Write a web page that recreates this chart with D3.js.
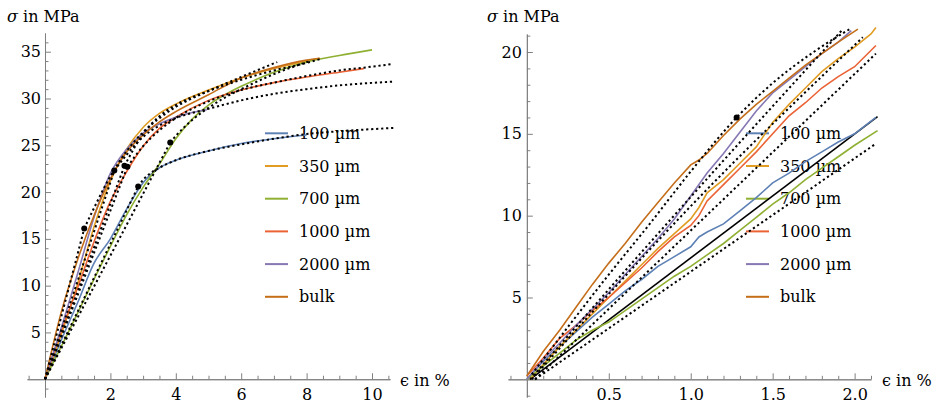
<!DOCTYPE html>
<html><head><meta charset="utf-8">
<script src="https://cdn.jsdelivr.net/npm/d3@7"></script>
<style>
body{margin:0;background:#fff}
</style>
</head><body>
<svg id="chart" width="936" height="405"></svg>
<script>
// ---------- DATA ----------
const seriesLabels = ["100 \u00b5m","350 \u00b5m","700 \u00b5m","1000 \u00b5m","2000 \u00b5m","bulk"];
const seriesColors = ["#5E81B5","#E19C24","#8FB032","#EB6235","#8778B3","#C56E1A"];

// left panel: full curves  [strain %, stress MPa]
const left100  = [[0,0],[0.5,4.2],[1,8.2],[1.5,12.4],[2,15.0],[2.5,18.2],[3,21.0],[3.5,22.6],[4,23.4],[5,24.4],[6,25.2],[7,25.7],[8,26.1]];
const left350  = [[0,0],[0.5,4.8],[1,10.2],[1.5,16.3],[2,21.2],[2.5,24.6],[3,26.9],[3.5,28.4],[4,29.4],[5,30.9],[6,32.2],[7,33.2],[8,34.0],[8.4,34.3]];
const left700  = [[0,0],[0.5,3.5],[1,7.1],[1.5,10.7],[2,14.2],[2.5,17.6],[3,20.5],[3.5,23.0],[4,25.7],[4.5,27.8],[5,29.3],[5.5,30.4],[6,31.3],[7,32.8],[8,33.9],[9,34.6],[10,35.2]];
const left1000 = [[0,0],[0.5,5.2],[1,9.8],[1.5,14.7],[2,19.0],[2.5,22.2],[3,24.9],[3.5,26.8],[4,28.0],[5,29.8],[6,30.9],[7,31.7],[8,32.3],[9,32.8],[9.75,33.2]];
const left2000 = [[0,0],[0.5,5.5],[1,11.3],[1.5,17.3],[2,22.0],[2.5,24.6],[3,26.3],[3.5,27.3],[4,28.0],[4.5,28.5],[4.95,28.8]];
const leftBulk = [[0,0],[0.5,7.2],[1,12.8],[1.5,17.5],[2,21.4],[2.5,24.3],[3,26.1],[3.5,27.5],[4,28.6],[5,30.4],[6,32.2],[7,33.3],[8,34.1],[8.4,34.3]];

// left panel: yield points and fitted curves (dotted)
const leftYield = [[2.85,20.6],[2.43,22.8],[3.83,25.3],[2.52,22.7],[2.12,22.3],[1.2,16.1]];
const leftFit100  = [[2.85,20.6],[3,21.3],[3.5,22.6],[4,23.4],[5,24.4],[6,25.1],[7,25.7],[8,26.2],[9,26.5],[10.65,26.85]];
const leftFit350  = [[2.43,22.8],[3,26.2],[3.5,28.1],[4,29.3],[5,30.8],[6,32.0],[7,33.0],[8,33.8],[8.4,34.2]];
const leftFit700  = [[3.83,25.3],[4,26.0],[4.5,27.7],[5,29.0],[5.5,30.1],[6,31.0],[7,32.6],[8.1,34.0]];
const leftFit1000 = [[2.52,22.7],[3,24.9],[3.5,26.6],[4,27.9],[5,29.7],[6,30.9],[7,31.7],[8,32.4],[9,33.0],[10,33.4],[10.65,33.7]];
const leftFit2000 = [[2.12,22.3],[2.5,24.0],[3,25.9],[3.5,27.1],[4,27.9],[5,28.9],[6,29.8],[7,30.5],[8,31.0],[9,31.4],[10.65,31.8]];
const leftFitBulk = [[1.2,16.1],[1.5,18.3],[2,21.7],[2.5,24.4],[3,26.4],[3.5,27.9],[4,29.1],[5,30.8],[6,32.3],[7.1,33.9]];

// right panel: initial part of the curves
const right100  = [[0,0],[0.1,1.1],[0.2,2.0],[0.3,2.9],[0.4,3.8],[0.5,4.6],[0.6,5.4],[0.7,6.1],[0.8,6.9],[0.9,7.5],[1.0,8.1],[1.05,8.7],[1.1,9.0],[1.2,9.5],[1.3,10.3],[1.4,11.1],[1.5,12.0],[1.6,12.6],[1.7,13.3],[1.8,13.9],[1.9,14.5],[2.0,15.0],[2.13,16.0]];
const right350  = [[0.02,0],[0.1,0.9],[0.2,2.0],[0.3,3.0],[0.4,4.0],[0.5,5.0],[0.6,6.0],[0.7,7.0],[0.8,8.0],[0.9,8.9],[1.0,9.8],[1.05,10.5],[1.1,11.4],[1.2,12.2],[1.3,13.2],[1.4,14.2],[1.5,15.7],[1.6,16.8],[1.7,17.8],[1.8,18.8],[1.9,19.6],[2.0,20.3],[2.1,21.1],[2.13,21.5]];
const right700  = [[0,0],[0.1,0.8],[0.2,1.6],[0.3,2.4],[0.4,3.0],[0.5,3.5],[0.6,4.2],[0.7,4.9],[0.8,5.6],[0.9,6.3],[1.0,6.9],[1.1,7.6],[1.2,8.3],[1.3,9.1],[1.4,9.9],[1.5,10.7],[1.6,11.4],[1.7,12.2],[1.8,12.9],[1.9,13.6],[2.0,14.3],[2.14,15.2]];
const right1000 = [[0,0.2],[0.1,1.3],[0.2,2.5],[0.3,3.3],[0.4,4.2],[0.5,5.0],[0.6,5.9],[0.7,6.8],[0.8,7.8],[0.9,8.7],[1.0,9.4],[1.05,10.0],[1.1,10.9],[1.2,11.9],[1.3,12.9],[1.4,13.9],[1.5,15.0],[1.6,16.1],[1.7,16.9],[1.8,17.8],[1.9,18.5],[2.0,19.1],[2.13,20.4]];
const right2000 = [[0,0],[0.1,1.2],[0.2,2.2],[0.3,3.3],[0.4,4.3],[0.5,5.3],[0.6,6.4],[0.7,7.5],[0.8,8.6],[0.9,9.8],[1.0,11.2],[1.1,12.6],[1.2,13.8],[1.3,15.1],[1.4,16.4],[1.5,17.5],[1.6,18.3],[1.7,19.1],[1.8,19.9],[1.9,20.6],[1.98,21.3]];
const rightBulk = [[0,0.2],[0.1,1.7],[0.2,3.0],[0.3,4.4],[0.4,5.8],[0.5,7.1],[0.6,8.3],[0.7,9.6],[0.8,10.8],[0.9,12.0],[1.0,13.1],[1.05,13.4],[1.1,13.8],[1.2,14.9],[1.3,15.9],[1.4,16.8],[1.5,17.6],[1.6,18.4],[1.7,19.2],[1.8,19.9],[1.9,20.6],[2.02,21.4]];

// right panel: elastic fits (dotted), reference line (solid black), yield point
const rightFitBulk = [[0.03,0.3],[0.5,6.4],[0.75,9.5],[1.0,12.7],[1.28,16.0],[1.5,18.1],[1.75,20.0],[1.97,21.4]];
const rightFitA = [[0.02,0],[0.8,8.9],[1.92,21.3]];
const rightFitB = [[0.03,0],[1.06,11.2],[2.05,20.9]];
const rightFitC = [[0.05,0],[2.13,19.9]];
const rightFitD = [[0.05,0],[2.13,14.4]];
const rightReference = [[0.02,0],[2.14,16.05]];
const rightYield = [[1.28,16.0]];

// ticks
const leftXMajor = [2,4,6,8,10];
const leftYMajor = [5,10,15,20,25,30,35];
const rightXMajor = [0.5,1.0,1.5,2.0];
const rightYMajor = [5,10,15,20];

// ---------- DRAW ----------
const FONT = "'DejaVu Serif','Liberation Serif',serif";
const svg = d3.select("#chart").attr("font-family",FONT).attr("font-size",16);
svg.append("rect").attr("width",936).attr("height",405).attr("fill","#fff");
const AXIS_COL = "#808080";

function drawAxes(xs, ys, xMajor, xMinor, yMajor, yMinor, xFmt, yPad){
  const x0 = xs(0), y0 = ys(0);
  const gxm = svg.append("g").attr("transform",`translate(0,${y0})`)
    .call(d3.axisBottom(xs).tickValues(xMinor).tickSizeInner(-3.5).tickSizeOuter(0).tickFormat(""));
  const gx = svg.append("g").attr("transform",`translate(0,${y0})`)
    .call(d3.axisBottom(xs).tickValues(xMajor).tickSizeInner(-6).tickSizeOuter(0).tickPadding(9).tickFormat(xFmt));
  const gym = svg.append("g").attr("transform",`translate(${x0},0)`)
    .call(d3.axisLeft(ys).tickValues(yMinor).tickSizeInner(-3.5).tickSizeOuter(0).tickFormat(""));
  const gy = svg.append("g").attr("transform",`translate(${x0},0)`)
    .call(d3.axisLeft(ys).tickValues(yMajor).tickSizeInner(-6).tickSizeOuter(0).tickPadding(yPad).tickFormat(d3.format("d")));
  [gxm,gx,gym,gy].forEach(g=>{
    g.attr("font-size",16).attr("font-family",FONT);
    g.selectAll("path.domain").attr("stroke",AXIS_COL).attr("stroke-width",1);
    g.selectAll(".tick line").attr("stroke",AXIS_COL).attr("stroke-width",1);
    g.selectAll(".tick text").attr("fill","#000");
  });
}

function drawLegend(xLine, xText){
  seriesLabels.forEach((lab,i)=>{
    const y = 133.3 + i*32.7;
    svg.append("line").attr("x1",xLine).attr("x2",xLine+23).attr("y1",y).attr("y2",y)
      .attr("stroke",seriesColors[i]).attr("stroke-width",2);
    svg.append("text").attr("x",xText).attr("y",y).attr("dy","0.35em").text(lab);
  });
}

function axisTitles(xS, yS, xE, yE){
  const t = svg.append("text").attr("x",xS).attr("y",yS);
  t.append("tspan").attr("font-style","italic").text("\u03c3");
  t.append("tspan").text(" in MPa");
  svg.append("text").attr("x",xE).attr("y",yE).text("\u03f5 in %");
}

function minors(lo, hi, step, majors){
  const out=[];
  for(let v=lo; v<=hi+1e-9; v+=step){
    const r=Math.round(v*1000)/1000;
    if(Math.abs(r)<1e-9) continue;
    if(majors.some(m=>Math.abs(m-r)<1e-6)) continue;
    out.push(r);
  }
  return out;
}

// ----- left panel -----
const lx = d3.scaleLinear().domain([-0.55,10.55]).range([27,390]);
const ly = d3.scaleLinear().domain([-1.9,37]).range([397,33]);
drawAxes(lx, ly, leftXMajor, minors(-0.5,10.5,0.5,leftXMajor), leftYMajor, minors(-1,36,1,leftYMajor), d3.format("d"), 4);
axisTitles(7, 21.7, 400, 386);
drawLegend(265, 299);

const lineL = d3.line().x(d=>lx(d[0])).y(d=>ly(d[1])).curve(d3.curveMonotoneX);
const leftSeries = [left100,left350,left700,left1000,left2000,leftBulk];
leftSeries.forEach((s,i)=>{
  svg.append("path").attr("d",lineL(s)).attr("fill","none")
    .attr("stroke",seriesColors[i]).attr("stroke-width",1.6);
});
const leftFits = [leftFit100,leftFit350,leftFit700,leftFit1000,leftFit2000,leftFitBulk];
const lineLin = d3.line().x(d=>lx(d[0])).y(d=>ly(d[1]));
leftFits.forEach((f,i)=>{
  svg.append("path").attr("d",lineLin([[0,0],leftYield[i]])).attr("fill","none")
    .attr("stroke","#000").attr("stroke-width",2).attr("stroke-dasharray","2.2,2.8");
  svg.append("path").attr("d",lineL(f)).attr("fill","none")
    .attr("stroke","#000").attr("stroke-width",2).attr("stroke-dasharray","2.2,2.8");
});
svg.selectAll("circle.ly").data(leftYield).enter().append("circle").attr("class","ly")
  .attr("cx",d=>lx(d[0])).attr("cy",d=>ly(d[1])).attr("r",3).attr("fill","#000");

// ----- right panel -----
const rx = d3.scaleLinear().domain([-0.115,2.10]).range([508,871]);
const ry = d3.scaleLinear().domain([-1.08,21.1]).range([397,34]);
drawAxes(rx, ry, rightXMajor, minors(-0.1,2.1,0.1,rightXMajor), rightYMajor, minors(-1,21,1,rightYMajor), d3.format(".1f"), 5);
axisTitles(487, 21.7, 882, 386);
drawLegend(746, 780);

const lineR = d3.line().x(d=>rx(d[0])).y(d=>ry(d[1]));
svg.append("path").attr("d",lineR(rightReference)).attr("fill","none")
  .attr("stroke","#000").attr("stroke-width",1.6);
const rightSeries = [right100,right350,right700,right1000,right2000,rightBulk];
rightSeries.forEach((s,i)=>{
  svg.append("path").attr("d",lineR(s)).attr("fill","none")
    .attr("stroke",seriesColors[i]).attr("stroke-width",1.6);
});
const lineRc = d3.line().x(d=>rx(d[0])).y(d=>ry(d[1])).curve(d3.curveMonotoneX);
[rightFitBulk,rightFitA,rightFitB,rightFitC,rightFitD].forEach(f=>{
  svg.append("path").attr("d",lineRc(f)).attr("fill","none")
    .attr("stroke","#000").attr("stroke-width",2).attr("stroke-dasharray","2.2,2.8");
});
svg.selectAll("circle.ry").data(rightYield).enter().append("circle").attr("class","ry")
  .attr("cx",d=>rx(d[0])).attr("cy",d=>ry(d[1])).attr("r",3).attr("fill","#000");
</script>
</body></html>
